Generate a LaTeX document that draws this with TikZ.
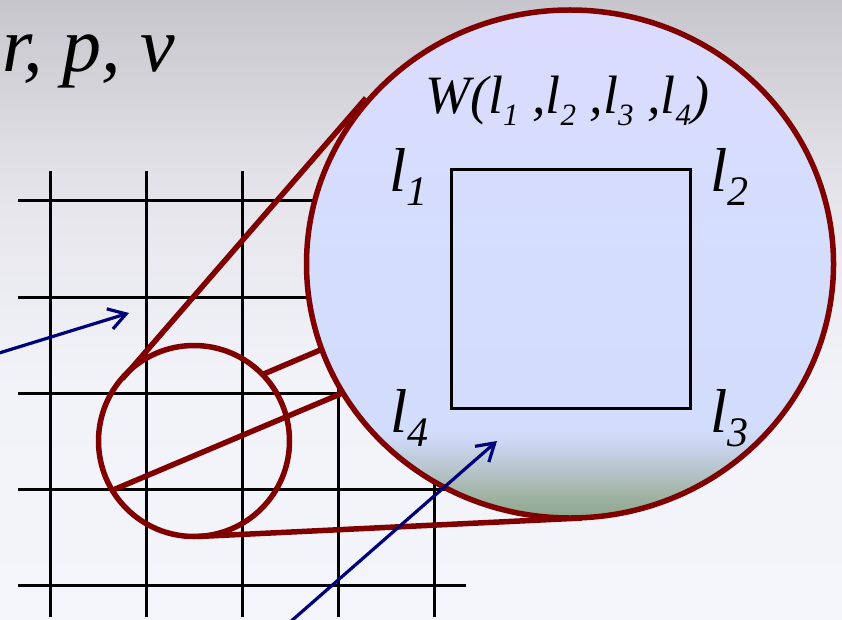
\documentclass[tikz,border=0pt]{standalone}
\usepackage{fontspec}
\setmainfont{Liberation Serif}
\usetikzlibrary{arrows.meta}
\definecolor{dred}{RGB}{128,0,0}
\definecolor{navyb}{RGB}{0,0,120}
\definecolor{bgA}{RGB}{244,245,251}
\definecolor{bgB}{RGB}{242,243,249}
\definecolor{bgC}{RGB}{229,229,235}
\definecolor{bgD}{RGB}{198,198,204}
\definecolor{lA}{RGB}{140,165,138}
\definecolor{lB}{RGB}{160,180,165}
\definecolor{lC}{RGB}{182,196,202}
\definecolor{lD}{RGB}{205,216,245}
\definecolor{lE}{RGB}{210,221,251}
\definecolor{lF}{RGB}{212,222,252}
\definecolor{lG}{RGB}{219,219,253}
\pgfdeclareverticalshading{bgshade}{100bp}{color(0bp)=(bgA); color(25bp)=(bgA); color(44bp)=(bgB); color(59bp)=(bgC); color(75bp)=(bgD); color(100bp)=(bgD)}
\pgfdeclareverticalshading{lensshade}{100bp}{color(0bp)=(lA); color(25bp)=(lA); color(27.3bp)=(lB); color(29.7bp)=(lC); color(32.7bp)=(lD); color(33.7bp)=(lE); color(50bp)=(lF); color(75bp)=(lG); color(100bp)=(lG)}
\newcommand\lsub[3]{\textit{l}\raisebox{-#2pt}{\fontsize{#3}{#3}\selectfont\itshape #1}}
\begin{document}
\begin{tikzpicture}[x=1pt,y=-1pt,
  gridline/.style={line width=3pt,black},
  redline/.style={line width=5.5pt,dred},
  bluearrow/.style={line width=3.2pt,navyb,-{Straight Barb[length=17pt,width=21pt]}},
  lbl/.style={anchor=base west,inner sep=0pt,font=\fontsize{62}{62}\selectfont\itshape},
]
\useasboundingbox (0,0) rectangle (842,620);
\clip (0,0) rectangle (842,620);
\shade[shading=bgshade] (0,0) rectangle (842,620);
% grid
\foreach \y in {201,297,393,489,585} \draw[gridline] (18,\y) -- (466,\y);
\foreach \x in {50,146,242,338,434} \draw[gridline] (\x,171) -- (\x,617);
% coordinates
\coordinate (c) at (194,441);
\coordinate (L) at (570,264);
\coordinate (t1) at (122.3,378.8);
\coordinate (t2) at (366,98);
\coordinate (b1) at (198,536.5);
\coordinate (b2) at (582,518);
\coordinate (m1) at (113,490);
\coordinate (m2) at (345,392);
\coordinate (n1) at (262.5,374.5);
\coordinate (n2) at (325,348);
% red connectors
\draw[redline] (t1) -- (t2);
\draw[redline] (b1) -- (b2);
\draw[redline] (m1) -- (m2);
\draw[redline] (n1) -- (n2);
\draw[redline] (c) circle [radius=95.5pt];
% lens
\shade[shading=lensshade] (L) ellipse [x radius=263.5pt, y radius=254pt];
\draw[redline] (L) ellipse [x radius=263.5pt, y radius=254pt];
% square
\node[draw,line width=3pt,minimum width=239pt,minimum height=238pt,inner sep=0pt] (sq) at (570.5,289) {};
% texts
\node[anchor=base west,inner sep=0pt,font=\fontsize{78}{78}\selectfont\itshape] (rpv) at (2,72) {r, p, v};
\node[anchor=base west,inner sep=0pt,font=\fontsize{54}{54}\selectfont\itshape] (W) at (425,114)
  {W(\lsub{1}{12}{31} ,\lsub{2}{12}{31} ,\lsub{3}{12}{31} ,\lsub{4}{12}{31})};
\node[lbl] (l1) at (389,192) {\lsub{1}{14}{42}};
\node[lbl] (l2) at (710,192) {\lsub{2}{14}{42}};
\node[lbl] (l4) at (390,432) {\lsub{4}{14}{42}};
\node[lbl] (l3) at (710,432) {\lsub{3}{14}{42}};
% blue arrows
\coordinate (a1s) at (-4,354);
\coordinate (a1e) at (129,313);
\coordinate (a2s) at (289,623);
\coordinate (a2e) at (497,441);
\draw[bluearrow] (a1s) -- (a1e);
\draw[bluearrow] (a2s) -- (a2e);
\end{tikzpicture}
\end{document}
